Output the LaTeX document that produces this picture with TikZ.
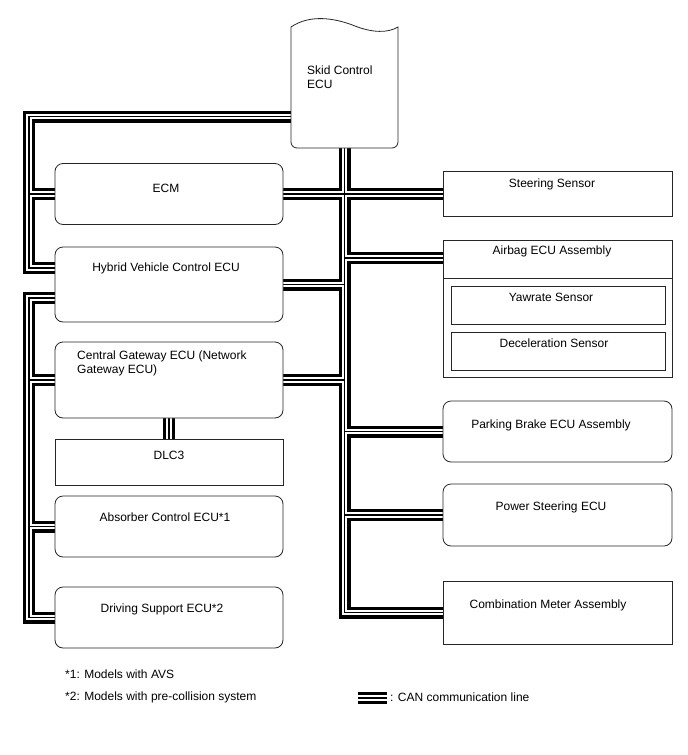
\documentclass[tikz,border=0pt]{standalone}
\usepackage{fontspec}
\setmainfont{Liberation Sans}
\pgfdeclarelayer{background}
\pgfsetlayers{background,main}
\tikzset{
  box/.style={draw=black!85, line width=0.8pt, fill=white, inner sep=0pt},
  lbox/.style={box, minimum width=228pt},
  rtbox/.style={box, minimum width=229pt},
  roundbox/.style={rounded corners=8pt},
  lbl/.style={font=\fontsize{12}{14}\selectfont, inner sep=0pt},
  note/.style={font=\fontsize{12}{14}\selectfont, inner sep=0pt, anchor=west},
  busouter/.style={line width=12pt, black, line join=miter},
  businner/.style={line width=5.5pt, white, line join=miter},
  buscore/.style={line width=1.3pt, black, line join=miter},
}
\newcommand\canlines[1]{%
  % left bus 1 : Skid -> ECM -> Hybrid
  \draw[#1] (skid.west |- 0,116.5) -| (lx |- 0,268) -- (hv.west |- 0,268);
  \draw[#1] (lx |- ecm.west) -- (ecm.west);
  % left bus 2 : Hybrid -> CGW -> Absorber -> Driving
  \draw[#1] (hv.west |- 0,298) -| (lx |- dsp.west) -- (dsp.west);
  \draw[#1] (lx |- cgw.west) -- (cgw.west);
  \draw[#1] (lx |- abs.west) -- (abs.west);
  % right bus
  \draw[#1] (skid.south -| rx) -- (rx |- comb.west) -- (comb.west);
  \draw[#1] (ecm.east) -- (steer.west);
  \draw[#1] (rx |- 0,258) -- (airbag.west |- 0,258);
  \draw[#1] (hv.east) -- (hv.east -| rx);
  \draw[#1] (cgw.east) -- (cgw.east -| rx);
  \draw[#1] (rx |- park.west) -- (park.west);
  \draw[#1] (rx |- pwr.west) -- (pwr.west);
  % DLC3 link
  \draw[#1] (cgw.south) -- (dlc.north);
  % legend sample
  \draw[#1] (legA) -- (legB);
}
\begin{document}
\begin{tikzpicture}[x=1pt,y=-1pt]
\useasboundingbox (0,0) rectangle (688,755);
\coordinate (lx) at (29,0);
\coordinate (rx) at (344.5,0);
\coordinate (legA) at (358,698);
\coordinate (legB) at (387,698);

% Skid Control ECU (wavy top)
\node[minimum width=107pt, minimum height=121pt, inner sep=0pt] (skid) at (344.5,87.5) {};
\draw[draw=black!85, line width=0.8pt, fill=white]
  (291,27) .. controls (310,14) and (335,18) .. (355,26)
  .. controls (373,33) and (388,33) .. (398,27)
  [rounded corners=6pt] -- (398,148) -- (291,148) [sharp corners] -- cycle;
\node[lbl, align=left, anchor=west] (skidt) at (307,77) {Skid Control\\ECU};

% left column
\node[lbox, roundbox, minimum height=61pt] (ecm) at (169,194) {};
\node[lbox, roundbox, minimum height=75pt] (hv) at (169,284.5) {};
\node[lbox, roundbox, minimum height=76pt] (cgw) at (169,380) {};
\node[lbox, minimum height=46pt] (dlc) at (169,462) {};
\node[lbox, roundbox, minimum height=61pt] (abs) at (169,526.5) {};
\node[lbox, roundbox, minimum height=61pt] (dsp) at (169,617.5) {};

\node[lbl] (ecmt) at (166,188) {ECM};
\node[lbl] (hvt) at (166,268) {Hybrid Vehicle Control ECU};
\node[lbl, align=left, anchor=west] (cgwt) at (77,363) {Central Gateway ECU (Network\\Gateway ECU)};
\node[lbl] (dlct) at (169,455) {DLC3};
\node[lbl] (abst) at (165,517) {Absorber Control ECU*1};
\node[lbl] (dspt) at (162,609) {Driving Support ECU*2};

% right column
\node[rtbox, minimum height=45pt] (steer) at (557.5,194) {};
\node[rtbox, minimum height=137pt] (airbag) at (557.5,308.5) {};
\draw[draw=black!85, line width=0.8pt] (airbag.west |- 0,278) -- (airbag.east |- 0,278);
\node[box, minimum width=214pt, minimum height=38pt] (yaw) at (558,305) {};
\node[box, minimum width=214pt, minimum height=38pt] (decel) at (558,351) {};
\node[rtbox, roundbox, minimum height=61pt] (park) at (557.5,431.5) {};
\node[rtbox, roundbox, minimum height=62pt] (pwr) at (557.5,515) {};
\node[rtbox, minimum height=63pt] (comb) at (557.5,612.5) {};

\node[lbl] (steert) at (552,184) {Steering Sensor};
\node[lbl] (airbagt) at (552,251) {Airbag ECU Assembly};
\node[lbl] (yawt) at (551,297) {Yawrate Sensor};
\node[lbl] (decelt) at (554,343) {Deceleration Sensor};
\node[lbl] (parkt) at (551,425) {Parking Brake ECU Assembly};
\node[lbl] (pwrt) at (551,507) {Power Steering ECU};
\node[lbl] (combt) at (548,605) {Combination Meter Assembly};

% notes and legend
\node[note] (n1) at (65,674) {*1: Models with AVS};
\node[note] (n2) at (65,697) {*2: Models with pre-collision system};
\node[note] (leg) at (390,697) {: CAN communication line};

% CAN lines
\begin{pgfonlayer}{background}
  \canlines{busouter}
  \canlines{businner}
  \canlines{buscore}
\end{pgfonlayer}
\end{tikzpicture}
\end{document}
